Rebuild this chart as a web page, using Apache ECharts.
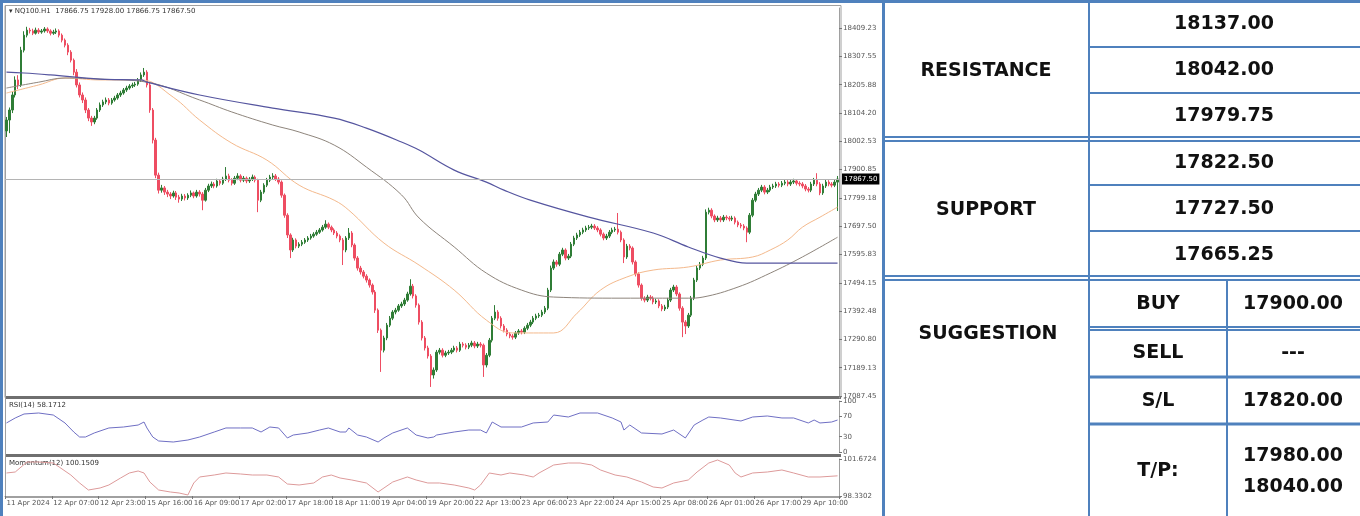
<!DOCTYPE html>
<html>
<head>
<meta charset="utf-8">
<script src="https://cdn.jsdelivr.net/npm/echarts@6/dist/echarts.min.js"></script>
<style>
  html, body { margin: 0; padding: 0; background: #fff; }
  #chart { width: 1360px; height: 516px; }
</style>
</head>
<body>
<div id="chart"></div>
<script>
// H1 candles: [open, close, low, high]
const candles = [
  [18040,18079,18018,18090],[18079,18115,18032,18124],[18115,18169,18104,18180],[18169,18223,18160,18236],
  [18223,18205,18190,18240],[18205,18330,18198,18342],[18330,18384,18322,18398],[18384,18402,18376,18414],
  [18402,18399,18390,18410],[18399,18391,18384,18407],[18391,18402,18386,18411],[18402,18395,18388,18409],
  [18395,18399,18389,18406],[18399,18406,18393,18413],[18406,18399,18392,18412],[18399,18391,18383,18405],
  [18391,18395,18385,18403],[18395,18399,18388,18408],[18399,18384,18376,18405],[18384,18366,18358,18390],
  [18366,18348,18340,18372],[18348,18323,18312,18355],[18323,18294,18286,18330],[18294,18251,18240,18300],
  [18251,18205,18196,18262],[18205,18169,18160,18214],[18169,18151,18140,18178],[18151,18115,18104,18160],
  [18115,18086,18075,18122],[18086,18072,18058,18094],[18072,18086,18064,18094],[18086,18115,18080,18122],
  [18115,18133,18108,18142],[18133,18144,18126,18152],[18144,18151,18136,18160],[18151,18140,18132,18158],
  [18140,18151,18134,18158],[18151,18158,18145,18166],[18158,18169,18152,18176],[18169,18176,18162,18184],
  [18176,18187,18170,18194],[18187,18194,18180,18202],[18194,18201,18188,18208],[18201,18205,18194,18213],
  [18205,18208,18198,18216],[18208,18223,18202,18230],[18223,18241,18216,18250],[18241,18251,18234,18266],
  [18251,18205,18196,18258],[18205,18115,18105,18212],[18115,18007,17995,18122],[18007,17881,17870,18015],
  [17881,17827,17815,17890],[17827,17835,17818,17846],[17835,17820,17810,17842],[17820,17813,17802,17828],
  [17813,17806,17795,17820],[17806,17817,17800,17825],[17817,17802,17792,17824],[17802,17795,17782,17810],
  [17795,17806,17788,17814],[17806,17799,17790,17813],[17799,17809,17792,17816],[17809,17817,17802,17826],
  [17817,17806,17798,17822],[17806,17820,17800,17828],[17820,17813,17804,17827],[17813,17791,17755,17820],
  [17791,17827,17786,17835],[17827,17842,17820,17850],[17842,17849,17835,17858],[17849,17842,17834,17856],
  [17842,17860,17836,17868],[17860,17852,17844,17866],[17852,17867,17846,17875],[17867,17878,17860,17910],
  [17878,17863,17855,17886],[17863,17852,17844,17870],[17852,17870,17846,17878],[17870,17878,17863,17888],
  [17878,17863,17855,17884],[17863,17870,17856,17878],[17870,17860,17852,17876],[17860,17867,17853,17874],
  [17867,17874,17860,17883],[17874,17863,17855,17880],[17863,17791,17748,17868],[17791,17820,17784,17828],
  [17820,17845,17814,17852],[17845,17863,17838,17871],[17863,17874,17856,17882],[17874,17878,17866,17888],
  [17878,17867,17860,17885],[17867,17856,17848,17874],[17856,17809,17800,17862],[17809,17737,17728,17815],
  [17737,17666,17655,17744],[17666,17612,17583,17672],[17612,17648,17605,17656],[17648,17626,17618,17654],
  [17626,17633,17619,17640],[17633,17640,17626,17648],[17640,17648,17634,17655],[17648,17655,17641,17662],
  [17655,17662,17649,17670],[17662,17669,17656,17676],[17669,17676,17663,17684],[17676,17684,17670,17691],
  [17684,17694,17678,17702],[17694,17705,17688,17719],[17705,17694,17687,17711],[17694,17684,17676,17700],
  [17684,17673,17666,17690],[17673,17662,17654,17680],[17662,17648,17640,17668],[17648,17612,17558,17655],
  [17612,17655,17604,17662],[17655,17673,17648,17691],[17673,17630,17622,17680],[17630,17583,17574,17636],
  [17583,17547,17538,17590],[17547,17533,17524,17555],[17533,17518,17510,17540],[17518,17504,17495,17525],
  [17504,17486,17477,17510],[17486,17461,17452,17492],[17461,17396,17386,17468],[17396,17324,17314,17402],
  [17324,17252,17174,17330],[17252,17296,17244,17304],[17296,17342,17288,17350],[17342,17367,17335,17375],
  [17367,17389,17360,17396],[17389,17396,17381,17404],[17396,17411,17390,17418],[17411,17418,17404,17426],
  [17418,17432,17411,17440],[17432,17454,17426,17462],[17454,17482,17448,17507],[17482,17447,17438,17490],
  [17447,17414,17405,17453],[17414,17353,17344,17420],[17353,17296,17287,17360],[17296,17260,17251,17303],
  [17260,17231,17222,17268],[17231,17163,17120,17238],[17163,17181,17150,17190],[17181,17245,17174,17253],
  [17245,17252,17237,17260],[17252,17234,17226,17259],[17234,17242,17227,17250],[17242,17245,17235,17253],
  [17245,17252,17238,17260],[17252,17260,17245,17268],[17260,17252,17244,17267],[17252,17274,17246,17282],
  [17274,17270,17262,17281],[17270,17263,17255,17277],[17263,17270,17256,17278],[17270,17278,17263,17286],
  [17278,17267,17259,17285],[17267,17274,17260,17282],[17274,17270,17262,17281],[17270,17199,17156,17276],
  [17199,17234,17190,17242],[17234,17288,17227,17296],[17288,17367,17280,17375],[17367,17389,17360,17414],
  [17389,17367,17358,17396],[17367,17339,17330,17374],[17339,17324,17316,17346],[17324,17310,17302,17331],
  [17310,17303,17295,17317],[17303,17299,17290,17310],[17299,17314,17292,17321],[17314,17321,17307,17328],
  [17321,17317,17309,17328],[17317,17331,17310,17338],[17331,17342,17324,17350],[17342,17353,17335,17361],
  [17353,17367,17346,17375],[17367,17375,17360,17383],[17375,17378,17368,17386],[17378,17389,17371,17397],
  [17389,17403,17382,17411],[17403,17468,17396,17476],[17468,17547,17461,17556],[17547,17569,17540,17578],
  [17569,17561,17552,17576],[17561,17597,17554,17605],[17597,17612,17590,17620],[17612,17583,17575,17618],
  [17583,17590,17576,17598],[17590,17633,17583,17641],[17633,17655,17626,17663],[17655,17666,17648,17674],
  [17666,17676,17659,17684],[17676,17684,17669,17692],[17684,17691,17677,17699],[17691,17694,17684,17702],
  [17694,17698,17687,17706],[17698,17691,17684,17705],[17691,17684,17676,17698],[17684,17669,17661,17690],
  [17669,17655,17647,17675],[17655,17662,17648,17670],[17662,17676,17655,17684],[17676,17684,17669,17692],
  [17684,17687,17677,17695],[17687,17676,17668,17745],[17676,17648,17640,17682],[17648,17587,17565,17654],
  [17587,17626,17580,17634],[17626,17619,17611,17633],[17619,17569,17560,17625],[17569,17526,17517,17575],
  [17526,17486,17477,17532],[17486,17439,17430,17492],[17439,17432,17424,17446],[17432,17443,17425,17451],
  [17443,17439,17431,17450],[17439,17425,17417,17446],[17425,17429,17418,17437],[17429,17411,17403,17435],
  [17411,17400,17392,17418],[17400,17407,17393,17415],[17407,17432,17400,17440],[17432,17468,17425,17476],
  [17468,17479,17461,17487],[17479,17454,17446,17486],[17454,17403,17394,17460],[17403,17353,17299,17410],
  [17353,17339,17310,17360],[17339,17378,17332,17386],[17378,17439,17371,17447],[17439,17504,17432,17512],
  [17504,17547,17497,17555],[17547,17561,17540,17569],[17561,17583,17554,17591],[17583,17748,17576,17758],
  [17748,17755,17740,17764],[17755,17734,17726,17762],[17734,17720,17712,17740],[17720,17727,17713,17735],
  [17727,17720,17712,17734],[17720,17730,17713,17738],[17730,17727,17719,17737],[17727,17723,17715,17734],
  [17723,17727,17716,17735],[17727,17712,17704,17733],[17712,17702,17694,17718],[17702,17698,17690,17709],
  [17698,17691,17683,17705],[17691,17676,17640,17697],[17676,17737,17669,17745],[17737,17791,17730,17799],
  [17791,17813,17784,17821],[17813,17827,17806,17835],[17827,17838,17820,17846],[17838,17820,17812,17845],
  [17820,17827,17813,17835],[17827,17838,17820,17846],[17838,17842,17831,17850],[17842,17849,17835,17857],
  [17849,17845,17837,17856],[17845,17852,17838,17860],[17852,17856,17845,17864],[17856,17849,17841,17863],
  [17849,17856,17842,17864],[17856,17860,17849,17868],[17860,17852,17844,17867],[17852,17849,17841,17859],
  [17849,17842,17834,17856],[17842,17831,17823,17849],[17831,17827,17819,17838],[17827,17849,17820,17857],
  [17849,17863,17842,17871],[17863,17849,17841,17888],[17849,17817,17809,17856],[17817,17842,17810,17850],
  [17842,17856,17835,17864],[17856,17849,17841,17863],[17849,17845,17837,17856],[17845,17856,17838,17864],
  [17856,17867,17752,17878]
];

// moving averages: [bar index, price]
const maFast = [[0,18176],[11,18205],[20,18230],[32,18223],[46,18223],[57,18161],[66,18079],[77,17996],
  [89,17935],[100,17845],[112,17791],[117,17755],[129,17637],[141,17558],[153,17468],[164,17360],
  [173,17314],[187,17314],[195,17385],[203,17468],[212,17515],[221,17540],[233,17551],[244,17576],
  [255,17587],[261,17612],[267,17648],[272,17694],[278,17730],[284,17766]];
const maMid = [[0,18194],[11,18215],[20,18230],[32,18226],[48,18215],[66,18151],[77,18108],[91,18061],
  [100,18036],[112,17989],[123,17910],[135,17810],[141,17727],[153,17623],[164,17529],[176,17468],
  [187,17443],[210,17439],[233,17439],[238,17443],[250,17479],[261,17529],[272,17587],[284,17658]];
const maSlow = [[0,18251],[6,18248],[15,18241],[32,18226],[46,18223],[48,18215],[66,18169],[91,18122],
  [112,18086],[123,18050],[135,18000],[141,17971],[153,17899],[164,17856],[170,17827],[179,17791],
  [199,17730],[221,17673],[233,17623],[244,17583],[253,17565],[267,17565],[284,17565]];

const rsi = [[0,56.9],[3,66.7],[6,74.5],[11,76.5],[16,72.5],[20,56.9],[23,39.2],[25,29.4],[27,29.4],
  [30,37.3],[35,47.1],[40,49.0],[45,52.9],[47,58.8],[48,47.1],[50,29.4],[52,21.6],[57,19.6],[62,23.5],
  [66,29.4],[71,39.2],[75,47.1],[80,47.1],[84,47.1],[87,39.2],[90,49.0],[93,47.1],[96,27.5],[98,33.3],
  [103,37.3],[107,43.1],[110,47.1],[114,39.2],[116,39.2],[117,47.1],[120,33.3],[123,29.4],[127,19.6],
  [129,27.5],[132,37.3],[137,47.1],[140,33.3],[144,27.5],[146,29.4],[147,33.3],[153,39.2],[158,43.1],
  [162,43.1],[164,37.3],[166,58.8],[169,49.0],[176,49.0],[180,56.9],[185,58.8],[187,72.5],[192,68.6],
  [196,76.5],[202,76.5],[207,66.7],[210,58.8],[211,43.1],[213,52.9],[217,37.3],[224,35.3],[228,43.1],
  [232,27.5],[235,52.9],[238,62.7],[240,68.6],[244,66.7],[251,60.8],[255,68.6],[260,70.6],[265,66.7],
  [269,66.7],[274,56.9],[276,62.7],[278,56.9],[282,58.8],[284,62.7]];

const momentum = [[0,100.408],[3,100.498],[7,101.401],[11,101.401],[16,101.311],[18,100.950],[22,100.227],
  [25,99.505],[28,98.872],[32,99.053],[35,99.324],[39,99.956],[42,100.408],[45,100.589],[47,100.408],
  [49,99.595],[52,98.872],[56,98.692],[59,98.601],[62,98.421],[64,99.505],[66,100.047],[71,100.227],
  [75,100.408],[80,100.318],[84,100.227],[89,100.227],[93,100.047],[96,99.414],[100,99.324],[105,99.505],
  [108,100.047],[111,100.227],[114,99.956],[118,99.776],[123,99.505],[127,98.692],[129,99.053],
  [132,99.595],[137,100.047],[140,99.776],[144,99.505],[148,99.505],[153,99.324],[158,99.053],
  [160,98.872],[162,99.324],[165,100.408],[169,100.227],[172,100.408],[177,100.227],[180,100.047],
  [182,100.408],[187,101.130],[192,101.311],[196,101.311],[200,101.130],[203,100.679],[208,100.227],
  [212,100.047],[217,99.595],[221,99.143],[224,99.053],[228,99.505],[233,99.776],[236,100.498],
  [240,101.311],[243,101.582],[247,101.130],[249,100.408],[251,100.047],[255,100.408],[260,100.498],
  [265,100.679],[269,100.408],[274,100.047],[278,100.047],[284,100.151]];

const priceTicks = [17087.45, 17189.13, 17290.80, 17392.48, 17494.15, 17595.83, 17697.50,
  17799.18, 17900.85, 18002.53, 18104.20, 18205.88, 18307.55, 18409.23];
const rsiTicks = [100, 70, 30, 0];
const momentumTicks = [101.6724, 98.3302];
const timeLabels = ['11 Apr 2024', '12 Apr 07:00', '12 Apr 23:00', '15 Apr 16:00', '16 Apr 09:00',
  '17 Apr 02:00', '17 Apr 18:00', '18 Apr 11:00', '19 Apr 04:00', '19 Apr 20:00', '22 Apr 13:00',
  '23 Apr 06:00', '23 Apr 22:00', '24 Apr 15:00', '25 Apr 08:00', '26 Apr 01:00', '26 Apr 17:00',
  '29 Apr 10:00'];
const lastPrice = 17867.5;

// table
const resistanceLevels = ['18137.00', '18042.00', '17979.75'];
const supportLevels = ['17822.50', '17727.50', '17665.25'];
const suggestionRows = [['BUY', '17900.00'], ['SELL', '---'], ['S/L', '17820.00']];
const takeProfit = ['17980.00', '18040.00'];

const bars = candles.map((c, i) => i);
const tiny = { fontSize: 7, color: '#555', fontFamily: 'DejaVu Sans' };
const frameGray = '#a0a0a0';
const tableBlue = '#4f81bd';

const myChart = echarts.init(document.getElementById('chart'));

function xAx(grid, showLabels) {
  return {
    type: 'category', gridIndex: grid, data: bars, boundaryGap: true,
    axisLine: { show: showLabels, lineStyle: { color: frameGray } },
    axisTick: { show: showLabels, interval: (i) => i % 16 === 0, length: 3, lineStyle: { color: '#777' } },
    axisLabel: {
      show: showLabels, interval: (i) => i % 16 === 0, align: 'left', margin: 4, ...tiny,
      formatter: (v, i) => timeLabels[i / 16] || ''
    },
    splitLine: { show: false }
  };
}

function yAx(grid, min, max, ticks, digits) {
  return {
    type: 'value', gridIndex: grid, position: 'right', min: min, max: max, scale: true,
    axisLine: { show: true, lineStyle: { color: frameGray } },
    axisTick: { show: true, customValues: ticks, length: 3, lineStyle: { color: '#777' } },
    axisLabel: { customValues: ticks, margin: 4, ...tiny, formatter: (v) => v.toFixed(digits) },
    splitLine: { show: false }
  };
}

// table drawing
const tableGraphics = [];
function hline(y, x1, x2, w) {
  tableGraphics.push({ type: 'line', shape: { x1: x1, y1: y, x2: x2, y2: y }, style: { stroke: tableBlue, lineWidth: w || 2 } });
}
function vline(x, y1, y2, w) {
  tableGraphics.push({ type: 'line', shape: { x1: x, y1: y1, x2: x, y2: y2 }, style: { stroke: tableBlue, lineWidth: w || 2 } });
}
function cellText(txt, x, y) {
  tableGraphics.push({ type: 'text', style: { text: txt, x: x, y: y, align: 'center', verticalAlign: 'middle',
    font: 'bold 19px "DejaVu Sans"', fill: '#111' } });
}

vline(1.5, 0, 516, 3);
hline(1.5, 0, 1360, 3);
vline(883.5, 0, 516, 3);
vline(1089, 0, 516);
vline(1227, 280, 516);
hline(47, 1089, 1360); hline(93, 1089, 1360);
hline(137, 884, 1360); hline(141, 884, 1360);
hline(185, 1089, 1360); hline(231, 1089, 1360);
hline(276, 884, 1360); hline(280, 884, 1360);
hline(327, 1089, 1360); hline(330, 1089, 1360);
hline(377, 1089, 1360, 3); hline(424, 1089, 1360, 3);

cellText('RESISTANCE', 986, 71);
resistanceLevels.forEach((v, i) => cellText(v, 1224, [24, 70, 116][i]));
cellText('SUPPORT', 986, 210);
supportLevels.forEach((v, i) => cellText(v, 1224, [163, 209, 255][i]));
cellText('SUGGESTION', 988, 334);
suggestionRows.forEach((r, i) => {
  const y = [304, 353, 401][i];
  cellText(r[0], 1158, y);
  cellText(r[1], 1293, y);
});
cellText('T/P:', 1158, 471);
cellText(takeProfit[0], 1293, 456);
cellText(takeProfit[1], 1293, 487);

// MT4 panel frames
const frames = [
  { type: 'rect', shape: { x: 5, y: 5.5, width: 836, height: 392 }, style: { fill: 'none', stroke: frameGray, lineWidth: 1 } },
  { type: 'rect', shape: { x: 5, y: 396, width: 836, height: 3 }, style: { fill: '#6f6f6f' } },
  { type: 'rect', shape: { x: 5, y: 454, width: 836, height: 3 }, style: { fill: '#6f6f6f' } },
  { type: 'line', shape: { x1: 5, y1: 497.5, x2: 841, y2: 497.5 }, style: { stroke: frameGray, lineWidth: 1 } },
  { type: 'line', shape: { x1: 5.5, y1: 5, x2: 5.5, y2: 498 }, style: { stroke: frameGray, lineWidth: 1 } },
  { type: 'text', style: { text: '\u25BE NQ100.H1  17866.75 17928.00 17866.75 17867.50', x: 9, y: 11, verticalAlign: 'middle', fill: '#333', font: '7px DejaVu Sans' } },
  { type: 'text', style: { text: 'RSI(14) 58.1712', x: 9, y: 405, verticalAlign: 'middle', fill: '#333', font: '7px DejaVu Sans' } },
  { type: 'text', style: { text: 'Momentum(12) 100.1509', x: 9, y: 463, verticalAlign: 'middle', fill: '#333', font: '7px DejaVu Sans' } }
];

myChart.setOption({
  backgroundColor: '#fff',
  animation: false,
  grid: [
    { left: 5, right: 521, top: 8, height: 390, outerBoundsMode: 'none' },
    { left: 5, right: 521, top: 401, height: 51, outerBoundsMode: 'none' },
    { left: 5, right: 521, top: 459, height: 37, outerBoundsMode: 'none' }
  ],
  xAxis: [xAx(0, false), xAx(1, false), xAx(2, true)],
  yAxis: [
    yAx(0, 17080.3, 18481.5, priceTicks, 2),
    yAx(1, 0, 100, rsiTicks, 0),
    yAx(2, 98.3302, 101.6724, momentumTicks, 4)
  ],
  series: [
    {
      name: 'NQ', type: 'candlestick', xAxisIndex: 0, yAxisIndex: 0, data: candles, barWidth: 2,
      itemStyle: { color: '#2f7d36', color0: '#ee4d62', borderColor: '#2f7d36', borderColor0: '#ee4d62', borderWidth: 1 },
      markLine: {
        silent: true, symbol: 'none',
        lineStyle: { color: '#b4b4b4', type: 'solid', width: 1 },
        label: { position: 'end', formatter: lastPrice.toFixed(2), backgroundColor: '#000', color: '#fff',
          fontSize: 7, fontFamily: 'DejaVu Sans', padding: [2, 2], distance: 3 },
        data: [{ yAxis: lastPrice }]
      }
    },
    { name: 'MA fast', type: 'line', xAxisIndex: 0, yAxisIndex: 0, data: maFast, smooth: 0.4, showSymbol: false,
      lineStyle: { color: '#f4b98c', width: 1 } },
    { name: 'MA mid', type: 'line', xAxisIndex: 0, yAxisIndex: 0, data: maMid, smooth: 0.4, showSymbol: false,
      lineStyle: { color: '#8e857c', width: 1 } },
    { name: 'MA slow', type: 'line', xAxisIndex: 0, yAxisIndex: 0, data: maSlow, smooth: 0.4, showSymbol: false,
      lineStyle: { color: '#55559f', width: 1.2 } },
    { name: 'RSI', type: 'line', xAxisIndex: 1, yAxisIndex: 1, data: rsi, showSymbol: false,
      lineStyle: { color: '#6f6fc4', width: 1 } },
    { name: 'Momentum', type: 'line', xAxisIndex: 2, yAxisIndex: 2, data: momentum, showSymbol: false,
      lineStyle: { color: '#dd9a9a', width: 1 } }
  ],
  graphic: frames.concat(tableGraphics)
});
</script>
</body>
</html>
